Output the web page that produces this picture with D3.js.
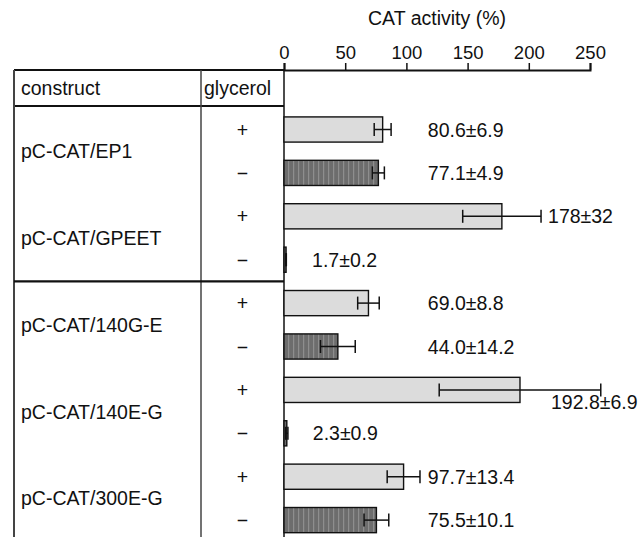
<!DOCTYPE html>
<html>
<head>
<meta charset="utf-8">
<script src="https://cdnjs.cloudflare.com/ajax/libs/d3/7.8.5/d3.min.js"></script>
<style>
    body { margin: 0; background: #fff; }
    svg text { font-family: "Liberation Sans", Arial, Helvetica, sans-serif; fill: #111; }
</style>
</head>
<body>
<div id="chart"></div>
<script>
// data
var constructs = ["pC-CAT/EP1", "pC-CAT/GPEET", "pC-CAT/140G-E", "pC-CAT/140E-G", "pC-CAT/300E-G"];
var glycerol = ["+", "\u2212"];
var means = [80.6, 77.1, 178, 1.7, 69.0, 44.0, 192.8, 2.3, 97.7, 75.5];
// error bars as drawn (the 192.8 bar is drawn with a much wider bar than its label says)
var errs = [6.9, 4.9, 32, 0.2, 8.8, 14.2, 66, 0.9, 13.4, 10.1];
var valueLabels = ["80.6\u00b16.9", "77.1\u00b14.9", "178\u00b132", "1.7\u00b10.2", "69.0\u00b18.8",
    "44.0\u00b114.2", "192.8\u00b16.9", "2.3\u00b10.9", "97.7\u00b113.4", "75.5\u00b110.1"];
var xTicks = [0, 50, 100, 150, 200, 250];

function catChart(options) {
    options.container = options.container ? options.container : "body";
    options.width = options.width ? options.width : 643;
    options.height = options.height ? options.height : 537;
    options.fontSize = options.fontSize ? options.fontSize : 19.5;

    var width = options.width, height = options.height;
    var tableLeft = 14, colDivider = 201, axisTop = 70, headerBottom = 106;

    var svg = d3.select(options.container).append("svg")
        .attr("width", width).attr("height", height);

    // stripes for the "-" bars
    var pat = svg.append("defs").append("pattern")
        .attr("id", "stripes").attr("patternUnits", "userSpaceOnUse")
        .attr("width", 5).attr("height", 10);
    pat.append("rect").attr("width", 5).attr("height", 10).attr("fill", "#6d6d6d");
    pat.append("rect").attr("x", 3).attr("width", 1.2).attr("height", 10).attr("fill", "#8e8e8e");

    var rows = [];
    constructs.forEach(function (c, i) {
        glycerol.forEach(function (g, j) {
            var k = i * 2 + j;
            rows.push({construct: c, glycerol: g, mean: means[k], err: errs[k], label: valueLabels[k], idx: k});
        });
    });

    var x = d3.scaleLinear().domain([0, 250]).range([284, 590]);
    var y = d3.scaleBand().domain(d3.range(rows.length))
        .range([107.8, 541.8]).paddingInner(0.42).paddingOuter(0.21);

    // title
    svg.append("text")
        .attr("x", (x(0) + x(250)) / 2).attr("y", 25)
        .attr("text-anchor", "middle")
        .style("font-size", options.fontSize + "px")
        .text("CAT activity (%)");

    // axis along the top
    var xg = svg.append("g")
        .attr("transform", "translate(0," + axisTop + ")")
        .call(d3.axisTop(x).tickValues(xTicks).tickSize(7).tickPadding(4));
    xg.select(".domain").attr("stroke", "#111").attr("stroke-width", 2);
    xg.selectAll(".tick line").attr("stroke", "#111").attr("stroke-width", 1.5);
    xg.selectAll(".tick text").style("font-size", "18.5px").attr("fill", "#111")
        .style("font-family", "'Liberation Sans', Arial, sans-serif");

    // table lines
    var lines = svg.append("g").attr("stroke", "#111");
    lines.append("line").attr("x1", tableLeft).attr("x2", x(0)).attr("y1", axisTop).attr("y2", axisTop).attr("stroke-width", 2);
    lines.append("line").attr("x1", tableLeft).attr("x2", x(0)).attr("y1", headerBottom).attr("y2", headerBottom).attr("stroke-width", 2);
    lines.append("line").attr("x1", tableLeft).attr("x2", tableLeft).attr("y1", axisTop).attr("y2", height).attr("stroke-width", 2).attr("stroke", "#444");
    lines.append("line").attr("x1", colDivider).attr("x2", colDivider).attr("y1", axisTop).attr("y2", height).attr("stroke-width", 1.5).attr("stroke", "#444");
    lines.append("line").attr("x1", x(0)).attr("x2", x(0)).attr("y1", axisTop).attr("y2", height).attr("stroke-width", 1.5);
    // separator after GPEET
    var sepY = (y(3) + y.bandwidth() + y(4)) / 2;
    lines.append("line").attr("x1", tableLeft).attr("x2", x(0)).attr("y1", sepY).attr("y2", sepY).attr("stroke-width", 2.2);

    // header
    svg.append("text").attr("x", 21).attr("y", 95).style("font-size", options.fontSize + "px").text("construct");
    svg.append("text").attr("x", 204).attr("y", 95).style("font-size", options.fontSize + "px").text("glycerol");

    // construct names, centred on their pair of rows
    svg.selectAll(".cname").data(constructs).enter().append("text")
        .attr("class", "cname")
        .attr("x", 21)
        .attr("y", function (d, i) { return (y(i * 2) + y(i * 2 + 1) + y.bandwidth()) / 2; })
        .attr("dy", "0.36em")
        .style("font-size", options.fontSize + "px")
        .text(function (d) { return d; });

    svg.selectAll(".gly").data(rows).enter().append("text")
        .attr("class", "gly")
        .attr("x", (colDivider + x(0)) / 2)
        .attr("y", function (d) { return y(d.idx) + y.bandwidth() / 2; })
        .attr("dy", "0.36em")
        .attr("text-anchor", "middle")
        .style("font-size", options.fontSize + "px")
        .text(function (d) { return d.glycerol; });

    // bars
    svg.selectAll(".bar").data(rows).enter().append("rect")
        .attr("class", "bar")
        .attr("x", x(0))
        .attr("y", function (d) { return y(d.idx); })
        .attr("width", function (d) { return x(d.mean) - x(0); })
        .attr("height", y.bandwidth())
        .attr("fill", function (d) { return d.glycerol == "+" ? "#dcdcdc" : "url(#stripes)"; })
        .attr("stroke", "#111").attr("stroke-width", 1.4);

    // error bars
    var eb = svg.selectAll(".err").data(rows).enter().append("g")
        .attr("class", "err").attr("stroke", "#111").attr("stroke-width", 1.5);
    eb.append("line")
        .attr("x1", function (d) { return x(d.mean - d.err); })
        .attr("x2", function (d) { return x(d.mean + d.err); })
        .attr("y1", function (d) { return y(d.idx) + y.bandwidth() / 2; })
        .attr("y2", function (d) { return y(d.idx) + y.bandwidth() / 2; });
    [-1, 1].forEach(function (s) {
        eb.append("line")
            .attr("x1", function (d) { return x(d.mean + s * d.err); })
            .attr("x2", function (d) { return x(d.mean + s * d.err); })
            .attr("y1", function (d) { return y(d.idx) + y.bandwidth() / 2 - 6.5; })
            .attr("y2", function (d) { return y(d.idx) + y.bandwidth() / 2 + 6.5; });
    });

    // value labels
    var labelCol = x(117.5);
    function tucked(d) {
        return d.mean >= 10 && x(d.mean + d.err) + 7 + 90 > width;
    }
    svg.selectAll(".val").data(rows).enter().append("text")
        .attr("class", "val")
        .style("font-size", options.fontSize + "px")
        .attr("x", function (d) {
            if (d.mean < 10) return x(d.mean) + 26;
            if (tucked(d)) return x(d.mean) + 31; // no room: tuck it below the bar
            return Math.max(labelCol, x(d.mean + d.err) + 7);
        })
        .attr("y", function (d) {
            if (tucked(d)) return y(d.idx) + y.bandwidth() + 7;
            return y(d.idx) + y.bandwidth() / 2;
        })
        .attr("dy", function (d) { return tucked(d) ? "0em" : "0.36em"; })
        .text(function (d) { return d.label; });
}

catChart({container: "#chart", width: 643, height: 537});
</script>
</body>
</html>
